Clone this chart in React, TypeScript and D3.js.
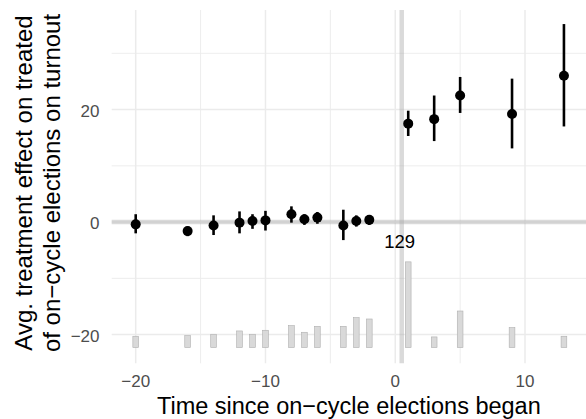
import React from "react";
import * as d3 from "d3";

const periods = [-20, -16, -14, -12, -11, -10, -8, -7, -6, -4, -3, -2, 1, 3, 5, 9, 13];
const att = [-0.4, -1.6, -0.6, -0.1, 0.2, 0.3, 1.4, 0.5, 0.8, -0.6, 0.2, 0.4, 17.5, 18.3, 22.5, 19.2, 26.0];
const ciLow = [-2.0, -2.5, -2.3, -2.0, -1.2, -1.5, -0.1, -0.5, -0.3, -3.2, -0.8, -0.5, 15.3, 14.4, 19.4, 13.1, 17.0];
const ciHigh = [1.4, -0.8, 1.2, 1.9, 1.4, 2.0, 2.8, 1.4, 1.8, 2.2, 1.2, 1.2, 19.8, 22.5, 25.8, 25.5, 35.2];
const counts = [17, 18, 20, 25, 20, 26, 33, 23, 32, 32, 45, 43, 129, 16, 55, 30, 17];
const xTicks = [-20, -10, 0, 10];
const xMinor = [-15, -5, 5];
const yTicks = [-20, 0, 20];
const yMinor = [-10, 10, 30];

const W = 586;
const H = 419;
const FONT = "'Liberation Sans', Arial, Helvetica, sans-serif";

export default function App() {
  const x = d3.scaleLinear().domain([-21.85, 14.7]).range([111.7, 586]);
  const y = d3.scaleLinear().domain([-25.1, 37.7]).range([363.3, 10]);
  const barBase = -22.3;
  const barMaxH = 15.23; // data units for the max count
  const maxCount = d3.max(counts) as number;
  const barH = d3.scaleLinear().domain([0, maxCount]).range([0, barMaxH]);
  const bw = 0.44;
  const [x0, x1] = x.range();
  const [yb, yt] = y.range();
  const grid = "#EBEBEB";
  const maxIdx = counts.indexOf(maxCount);
  const fmt = (v: number) => (v < 0 ? "\u2212" + Math.abs(v) : String(v));

  return (
    <svg width={W} height={H} style={{ display: "block", position: "absolute", left: 0, top: 0 }} fontFamily={FONT}>
      <rect width={W} height={H} fill="white" />
      {/* minor grid */}
      {yMinor.map((v) => (
        <line key={"ym" + v} x1={x0} x2={x1} y1={y(v)} y2={y(v)} stroke={grid} strokeWidth={0.9} />
      ))}
      {xMinor.map((v) => (
        <line key={"xm" + v} x1={x(v)} x2={x(v)} y1={yb} y2={yt} stroke={grid} strokeWidth={0.9} />
      ))}
      {/* major grid */}
      {yTicks.map((v) => (
        <line key={"y" + v} x1={x0} x2={x1} y1={y(v)} y2={y(v)} stroke={grid} strokeWidth={1.5} />
      ))}
      {xTicks.map((v) => (
        <line key={"x" + v} x1={x(v)} x2={x(v)} y1={yb} y2={yt} stroke={grid} strokeWidth={1.5} />
      ))}
      {/* reference lines */}
      <line x1={x0} x2={x1} y1={y(0)} y2={y(0)} stroke="#AAAAAA" strokeOpacity={0.44} strokeWidth={4.5} />
      <line x1={x(0.5)} x2={x(0.5)} y1={yb} y2={yt} stroke="#AAAAAA" strokeOpacity={0.44} strokeWidth={4.5} />
      {/* count bars */}
      {periods.map((p, i) => (
        <rect
          key={"b" + p}
          x={x(p - bw / 2)}
          width={x(p + bw / 2) - x(p - bw / 2)}
          y={y(barBase + barH(counts[i]))}
          height={y(barBase) - y(barBase + barH(counts[i]))}
          fill="#D9D9D9"
          stroke="#AFAFAF"
          strokeWidth={0.6}
        />
      ))}
      <text x={x(periods[maxIdx]) - 8.5} y={y(barBase + barMaxH) - 13.5} fontSize={18.5} textAnchor="middle" fill="black">
        {maxCount}
      </text>
      {/* error bars and points */}
      {periods.map((p, i) => (
        <g key={"p" + p}>
          <line x1={x(p)} x2={x(p)} y1={y(ciLow[i])} y2={y(ciHigh[i])} stroke="black" strokeWidth={2.6} />
          <circle cx={x(p)} cy={y(att[i])} r={5} fill="black" />
        </g>
      ))}
      {/* axis tick labels */}
      {xTicks.map((v) => (
        <text key={"xt" + v} x={x(v)} y={387} fontSize={17} textAnchor="middle" fill="#4D4D4D">
          {fmt(v)}
        </text>
      ))}
      {yTicks.map((v) => (
        <text key={"yt" + v} x={99.5} y={y(v) + 7.2} fontSize={17} textAnchor="end" fill="#4D4D4D">
          {fmt(v)}
        </text>
      ))}
      {/* axis titles */}
      <text x={(x0 + x1) / 2} y={413.5} fontSize={23.5} textAnchor="middle" fill="black">
        Time since on{"\u2212"}cycle elections began
      </text>
      <g transform={`translate(0, 183) rotate(-90)`}>
        <text x={0} y={32} fontSize={24} textAnchor="middle" fill="black">
          Avg. treatment effect on treated
        </text>
        <text x={0} y={60} fontSize={24} textAnchor="middle" fill="black">
          of on{"\u2212"}cycle elections on turnout
        </text>
      </g>
    </svg>
  );
}
